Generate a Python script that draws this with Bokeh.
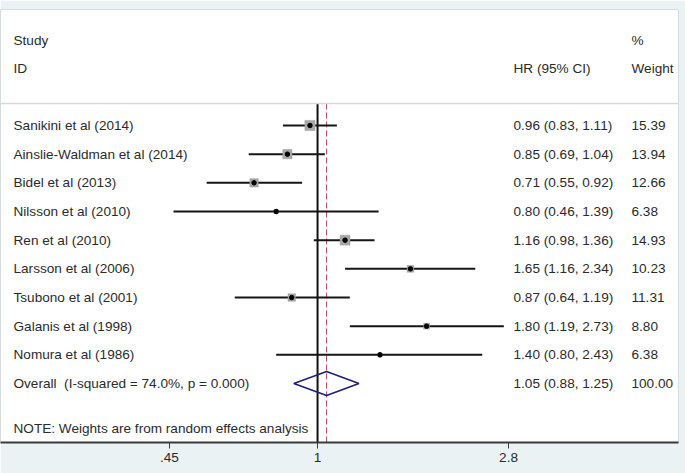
import numpy as np
from bokeh.plotting import figure
from bokeh.models import Range1d, FixedTicker, Span
from bokeh.core.properties import value
from bokeh.embed import file_html
from bokeh.resources import INLINE

# ---- data -------------------------------------------------------------
studies = [
    "Sanikini et al (2014)",
    "Ainslie-Waldman et al (2014)",
    "Bidel et al (2013)",
    "Nilsson et al (2010)",
    "Ren et al (2010)",
    "Larsson et al (2006)",
    "Tsubono et al (2001)",
    "Galanis et al (1998)",
    "Nomura et al (1986)",
]
hr = [0.96, 0.85, 0.71, 0.80, 1.16, 1.65, 0.87, 1.80, 1.40]
lower = [0.83, 0.69, 0.55, 0.46, 0.98, 1.16, 0.64, 1.19, 0.80]
upper = [1.11, 1.04, 0.92, 1.39, 1.36, 2.34, 1.19, 2.73, 2.43]
weight = [15.39, 13.94, 12.66, 6.38, 14.93, 10.23, 11.31, 8.80, 6.38]

overall_hr = 1.05
overall_lower = 0.88
overall_upper = 1.25
overall_weight = 100.00
i_squared = 74.0
p_value = 0.000

tick_values = [0.45, 1.0, 2.8]
tick_labels = [".45", "1", "2.8"]

# ---- layout constants -----------------------------------------------------
W, H = 685, 473
FRAME_W = 678
X_LO, X_HI = 0.181, 7.00          # log-scale x range across the frame
Y_BOTTOM, Y_TOP = 11.057, -4.046  # row units, row 0 at the top

FONT = "Liberation Sans"
FSIZE = "13.6px"
TXT = "#2b2b2b"


def col_x(px):
    """Data x of a text column that starts px pixels into the frame."""
    return X_LO * (X_HI / X_LO) ** (px / FRAME_W)


STUDY_X = col_x(13)
HR_X = col_x(513)
W_X = col_x(631)

n = len(studies)
rows = list(range(n))
overall_row = n
note_row = 10.57
head1, head2 = -2.97, -2.0
header_line = -0.77

p = figure(
    width=W, height=H,
    x_axis_type="log",
    x_range=Range1d(X_LO, X_HI),
    y_range=Range1d(Y_BOTTOM, Y_TOP),
    output_backend="svg",
    toolbar_location=None,
    min_border_left=0, min_border_right=7,
    min_border_top=9, min_border_bottom=31,
    y_axis_location=None,
)
p.background_fill_color = "white"
p.border_fill_color = "#eaf2f3"
p.outline_line_color = "#d3dde0"
p.outline_line_width = 1
p.xgrid.visible = False
p.ygrid.visible = False

# x axis
ax = p.xaxis[0]
ax.ticker = FixedTicker(ticks=tick_values, minor_ticks=[])
ax.major_label_overrides = {v: s for v, s in zip(tick_values, tick_labels)}
ax.axis_line_color = "#3a3a3a"
ax.axis_line_width = 2
ax.major_tick_out = 6
ax.major_tick_in = 0
ax.major_tick_line_color = "#3a3a3a"
ax.minor_tick_line_color = None
ax.major_label_standoff = 4
ax.major_label_text_font = FONT
ax.major_label_text_font_size = FSIZE
ax.major_label_text_color = TXT

# separator under the column headers
p.add_layout(Span(location=header_line, dimension="width",
                  line_color="#d9d9d9", line_width=1.5))

# null line at HR = 1 and dashed line at the pooled estimate
p.segment(x0=[1.0], x1=[1.0], y0=[header_line], y1=[Y_BOTTOM],
          line_color="#111111", line_width=2)
p.segment(x0=[overall_hr], x1=[overall_hr], y0=[header_line], y1=[Y_BOTTOM],
          line_color="#b04550", line_width=1, line_dash="6 3")

# confidence intervals
p.segment(x0=lower, x1=upper, y0=rows, y1=rows,
          line_color="#151515", line_width=2)

# weight boxes and point estimates
box_size = [w * 0.66 for w in weight]
p.scatter(x=hr, y=rows, size=box_size, marker="square",
          fill_color="#a8a8a8", line_color="#9a9a9a", line_width=0.5)
p.scatter(x=hr, y=rows, size=4.5, marker="circle",
          fill_color="black", line_color="black")

# pooled estimate diamond
half_h = 0.42
p.patch(x=[overall_lower, overall_hr, overall_upper, overall_hr],
        y=[overall_row, overall_row - half_h, overall_row, overall_row + half_h],
        fill_alpha=0, line_color="#1f1f7f", line_width=1.6)

# text columns
def put(x, y, txt):
    p.text(x=x, y=y, text=txt, text_font=value(FONT),
           text_font_size=FSIZE, text_color=TXT,
           text_align="left", text_baseline="middle")

put([STUDY_X, STUDY_X], [head1, head2], ["Study", "ID"])
put([HR_X], [head2], ["HR (95% CI)"])
put([W_X, W_X], [head1, head2], ["%", "Weight"])

put([STUDY_X] * n, rows, studies)
put([STUDY_X], [overall_row],
    [f"Overall\u00a0 (I-squared = {i_squared:.1f}%, p = {p_value:.3f})"])
put([STUDY_X], [note_row], ["NOTE: Weights are from random effects analysis"])

hr_txt = [f"{h:.2f} ({l:.2f}, {u:.2f})" for h, l, u in zip(hr, lower, upper)]
hr_txt.append(f"{overall_hr:.2f} ({overall_lower:.2f}, {overall_upper:.2f})")
w_txt = [f"{w:.2f}" for w in weight] + [f"{overall_weight:.2f}"]
put([HR_X] * (n + 1), rows + [overall_row], hr_txt)
put([W_X] * (n + 1), rows + [overall_row], w_txt)

open("out.html", "w").write(file_html(p, INLINE))
